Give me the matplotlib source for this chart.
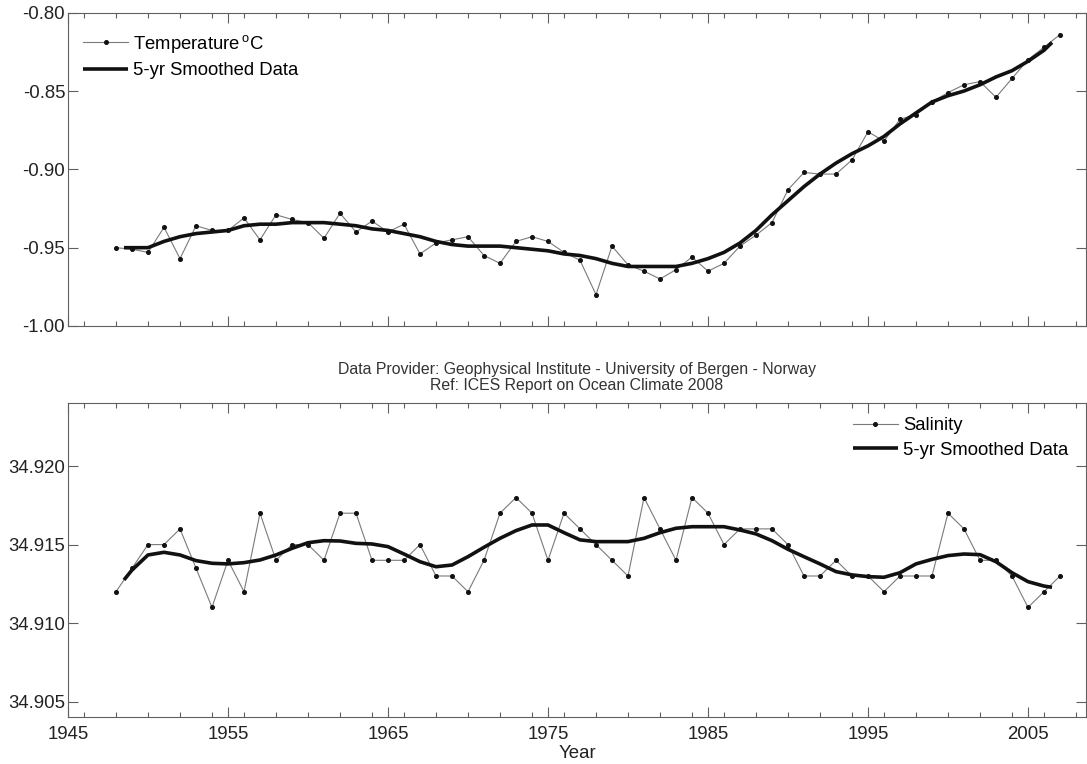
import matplotlib
matplotlib.use("Agg")
import matplotlib.pyplot as plt
from matplotlib.ticker import MultipleLocator, FormatStrFormatter, FixedLocator

plt.rcParams['font.family'] = ['Liberation Sans', 'DejaVu Sans']
plt.rcParams['mathtext.fontset'] = 'custom'
plt.rcParams['mathtext.rm'] = 'Liberation Sans'
plt.rcParams['mathtext.it'] = 'Liberation Sans:italic'

# ---------------- data ----------------
years = list(range(1948, 2008))

temperature = [-0.950, -0.951, -0.953, -0.937, -0.957, -0.936, -0.939, -0.939, -0.931, -0.945,
               -0.929, -0.932, -0.934, -0.944, -0.928, -0.940, -0.933, -0.940, -0.935, -0.954,
               -0.947, -0.945, -0.943, -0.955, -0.960, -0.946, -0.943, -0.946, -0.953, -0.958,
               -0.980, -0.949, -0.961, -0.965, -0.970, -0.964, -0.956, -0.965, -0.960, -0.949,
               -0.942, -0.934, -0.913, -0.902, -0.903, -0.903, -0.894, -0.876, -0.882, -0.868,
               -0.865, -0.857, -0.851, -0.846, -0.844, -0.854, -0.842, -0.830, -0.822, -0.814]

smooth_years = [1948.5] + list(range(1949, 2007)) + [2006.5]

temp_smooth = [-0.950, -0.950, -0.950, -0.946, -0.943, -0.941, -0.940, -0.939, -0.936, -0.935,
               -0.935, -0.934, -0.934, -0.934, -0.935, -0.936, -0.938, -0.939, -0.941, -0.943,
               -0.946, -0.948, -0.949, -0.949, -0.949, -0.950, -0.951, -0.952, -0.954, -0.955,
               -0.957, -0.960, -0.962, -0.962, -0.962, -0.962, -0.960, -0.957, -0.953, -0.947,
               -0.939, -0.929, -0.920, -0.911, -0.903, -0.896, -0.890, -0.885, -0.879, -0.871,
               -0.864, -0.857, -0.853, -0.850, -0.846, -0.841, -0.837, -0.831, -0.824, -0.819]

salinity = [34.912, 34.9135, 34.915, 34.915, 34.916, 34.9135, 34.911, 34.914, 34.912, 34.917,
            34.914, 34.915, 34.915, 34.914, 34.917, 34.917, 34.914, 34.914, 34.914, 34.915,
            34.913, 34.913, 34.912, 34.914, 34.917, 34.918, 34.917, 34.914, 34.917, 34.916,
            34.915, 34.914, 34.913, 34.918, 34.916, 34.914, 34.918, 34.917, 34.915, 34.916,
            34.916, 34.916, 34.915, 34.913, 34.913, 34.914, 34.913, 34.913, 34.912, 34.913,
            34.913, 34.913, 34.917, 34.916, 34.914, 34.914, 34.913, 34.911, 34.912, 34.913]

sal_smooth = [34.91275, 34.91338, 34.91434, 34.91451, 34.91434, 34.91398, 34.91381, 34.91377, 34.91385, 34.91402,
              34.91434, 34.91476, 34.91512, 34.91525, 34.91523, 34.91508, 34.91504, 34.91487, 34.91440, 34.91391,
              34.91359, 34.91370, 34.91423, 34.91483, 34.91540, 34.91589, 34.91625, 34.91625, 34.91576, 34.91530,
              34.91519, 34.91519, 34.91519, 34.91540, 34.91576, 34.91604, 34.91614, 34.91614, 34.91614, 34.91593,
              34.91568, 34.91525, 34.91470, 34.91423, 34.91377, 34.91328, 34.91307, 34.91296, 34.91292, 34.91321,
              34.91377, 34.91406, 34.91430, 34.91440, 34.91436, 34.91391, 34.91321, 34.91264, 34.91236, 34.91228]

temp_ticks = [-1.00, -0.95, -0.90, -0.85, -0.80]
sal_ticks = [34.905, 34.910, 34.915, 34.920]
year_ticks = [1945, 1955, 1965, 1975, 1985, 1995, 2005]

# ---------------- figure ----------------
W, H = 1087, 764
fig = plt.figure(figsize=(W / 100, H / 100), dpi=100)

def ax_rect(x0, y0, x1, y1):
    return [x0 / W, 1 - y1 / H, (x1 - x0) / W, (y1 - y0) / H]

ax1 = fig.add_axes(ax_rect(68, 12.7, 1086, 326))
ax2 = fig.add_axes(ax_rect(68, 403.3, 1086, 717.3))

thin = dict(color='#7a7a7a', lw=0.8, marker='o', ms=2.6, mfc='#111111', mec='#111111')
thick = dict(color='#111111', lw=2.6, solid_capstyle='butt')

ax1.plot(years, temperature, label=r'Temperature$\,^{\mathrm{o}}$C', **thin)
ax1.plot(smooth_years, temp_smooth, label='5-yr Smoothed Data', **thick)

ax2.plot(years, salinity, label='Salinity', **thin)
ax2.plot(smooth_years, sal_smooth, label='5-yr Smoothed Data', **thick)

FS = 13.4
spine_col = '#606060'
for ax in (ax1, ax2):
    ax.set_xlim(1945, 2008.625)
    ax.xaxis.set_major_locator(FixedLocator(year_ticks))
    ax.xaxis.set_minor_locator(MultipleLocator(2))
    ax.tick_params(axis='both', which='both', direction='in', top=True, right=True,
                   color=spine_col, width=0.8, labelsize=FS, labelcolor='#222222')
    ax.tick_params(axis='x', which='major', length=7.5, pad=6.5)
    ax.tick_params(axis='x', which='minor', length=3.5)
    ax.tick_params(axis='y', which='major', length=7.5, pad=2)
    for s in ax.spines.values():
        s.set_color(spine_col)
        s.set_linewidth(0.8)

ax1.set_ylim(-1.00, -0.80)
ax1.yaxis.set_major_locator(FixedLocator(temp_ticks))
ax1.yaxis.set_major_formatter(FormatStrFormatter('%.2f'))
ax1.tick_params(axis='x', which='both', labelbottom=False)

ax2.set_ylim(34.904, 34.924)
ax2.yaxis.set_major_locator(FixedLocator(sal_ticks))
ax2.yaxis.set_major_formatter(FormatStrFormatter('%.3f'))
ax2.xaxis.set_major_formatter(FormatStrFormatter('%d'))
ax2.set_xlabel('Year', fontsize=FS, color='#222222', labelpad=1.5)

LFS = 13.3
ax1.legend(loc='upper left', frameon=False, fontsize=LFS, handlelength=2.44,
           handletextpad=0.27, labelspacing=0.40, borderaxespad=0.69,
           bbox_to_anchor=(-0.005, 1.0))
ax2.legend(loc='upper right', frameon=False, fontsize=LFS, handlelength=2.44,
           handletextpad=0.27, labelspacing=0.40, borderaxespad=0.35,
           bbox_to_anchor=(0.996, 1.0))

cx = (68 + 1086) / 2 / W
fig.text(cx, 1 - 369.3 / H, 'Data Provider: Geophysical Institute - University of Bergen - Norway',
         ha='center', va='center', fontsize=11.45, color='#333333')
fig.text(cx, 1 - 386 / H, 'Ref: ICES Report on Ocean Climate 2008',
         ha='center', va='center', fontsize=11.45, color='#333333')

fig.savefig('out.png', dpi=100)
